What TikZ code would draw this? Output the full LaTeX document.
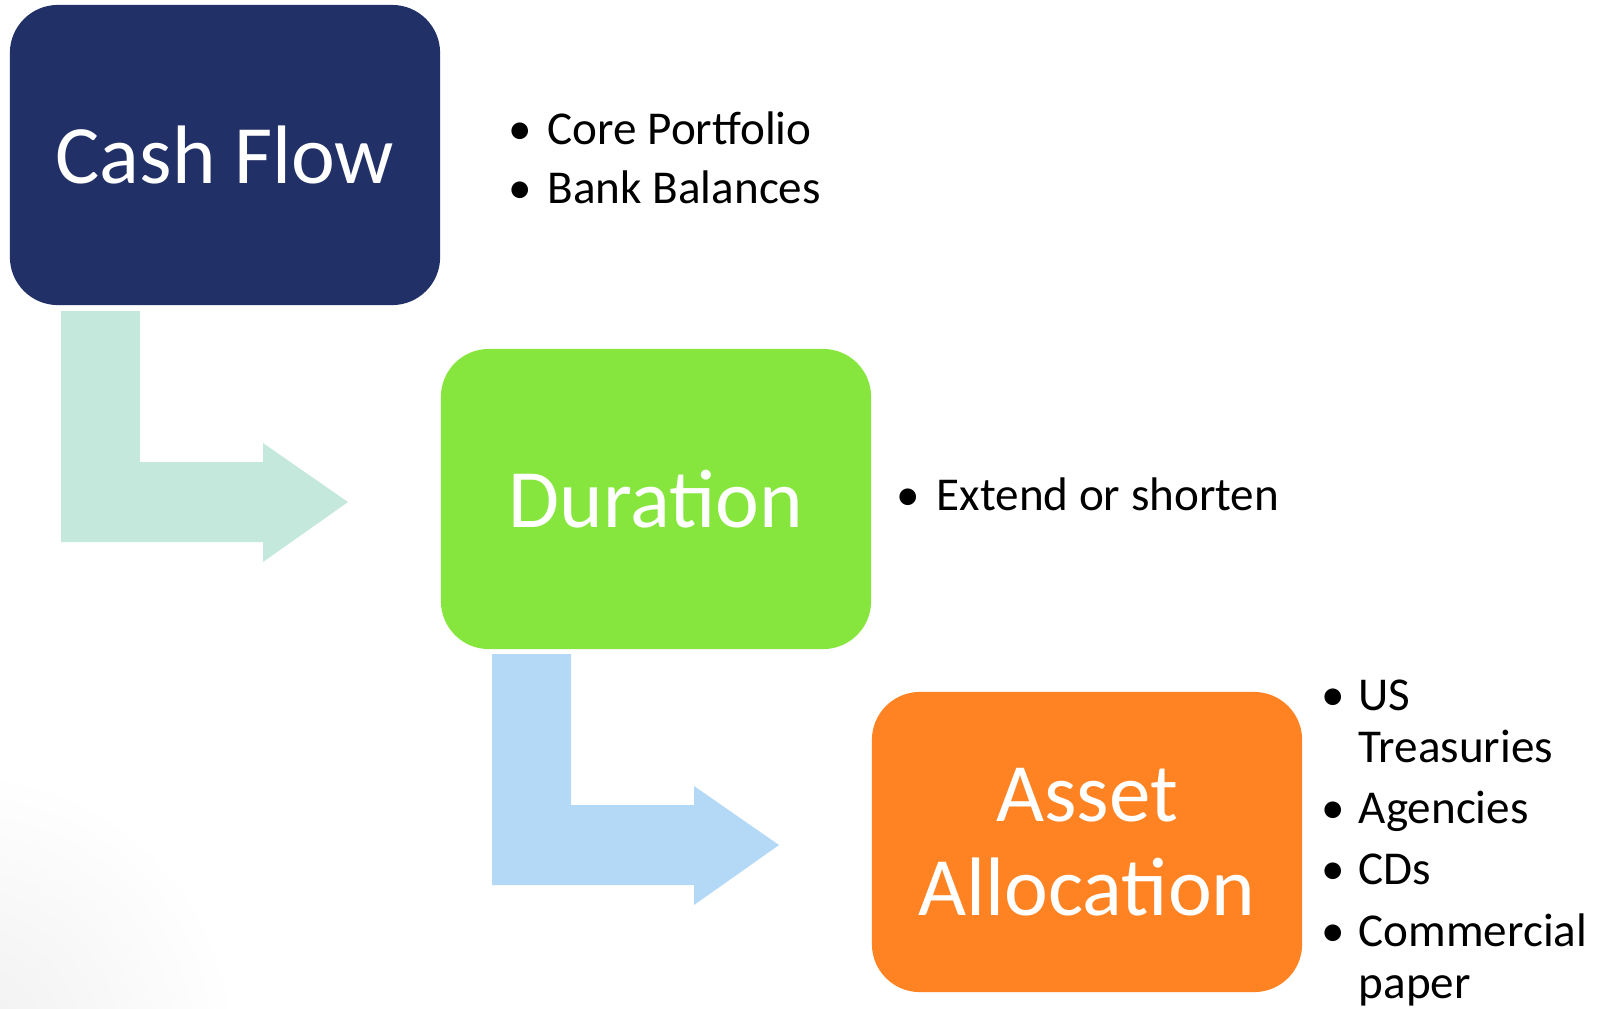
\documentclass[tikz,border=0pt]{standalone}
\usepackage{fontspec}
\setmainfont{Carlito}
\definecolor{navy}{RGB}{34,48,104}
\definecolor{lgreen}{RGB}{134,230,62}
\definecolor{orng}{RGB}{255,131,34}
\definecolor{teal1}{RGB}{197,232,220}
\definecolor{blue1}{RGB}{180,217,247}
\tikzset{
  box/.style={rounded corners=0.48cm, minimum width=4.3cm, minimum height=3.0cm,
    inner sep=0pt, text=white, align=center,
    font=\fontsize{23.6pt}{26.7pt}\selectfont},
  itemtext/.style={anchor=base west, inner sep=0pt, text=black,
    font=\fontsize{13.4pt}{15pt}\selectfont},
  bul/.style={anchor=base, inner sep=0pt, text=black,
    font=\fontsize{13.4pt}{15pt}\selectfont},
  pics/bentarrow/.style={code={
    \fill[#1] (0,0) -- (79,0) -- (79,151) -- (202,151) -- (202,132) -- (287,191)
      -- (202,251) -- (202,231) -- (0,231) -- cycle;}}
}
\begin{document}
\begin{tikzpicture}[x=0.01cm,y=-0.01cm]
\useasboundingbox (0,0) rectangle (1598,1008);
\begin{scope}
\clip (0,0) rectangle (1598,1008);
\shade[inner color=black!6, outer color=white] (-40,1048) circle (280);
\end{scope}
% boxes
\node[box, fill=navy] (cf) at (225,155) {Cash Flow};
\node[box, fill=lgreen] (du) at (656,499) {Duration};
\node[box, fill=orng] (aa) at (1087,842) {Asset\\Allocation};
% bent arrows
\pic at (61,311) {bentarrow=teal1};
\pic at (492,654) {bentarrow=blue1};
% bullets: cash flow
\node[bul] (b1) at (520,144) {•};
\node[itemtext] (t1) at (547,144) {Core Portfolio};
\node[bul] (b2) at (520,203) {•};
\node[itemtext] (t2) at (547,203) {Bank Balances};
% duration
\node[bul] (b3) at (908,510) {•};
\node[itemtext] (t3) at (936,510) {Extend or shorten};
% asset allocation
\node[bul] (b4) at (1333,710) {•};
\node[itemtext] (t4) at (1358,710) {US};
\node[itemtext] (t4b) at (1358,762) {Treasuries};
\node[bul] (b5) at (1333,823) {•};
\node[itemtext] (t5) at (1358,823) {Agencies};
\node[bul] (b6) at (1333,884) {•};
\node[itemtext] (t6) at (1358,884) {CDs};
\node[bul] (b7) at (1333,946) {•};
\node[itemtext] (t7) at (1358,946) {Commercial};
\node[itemtext] (t7b) at (1358,998) {paper};
\end{tikzpicture}
\end{document}
